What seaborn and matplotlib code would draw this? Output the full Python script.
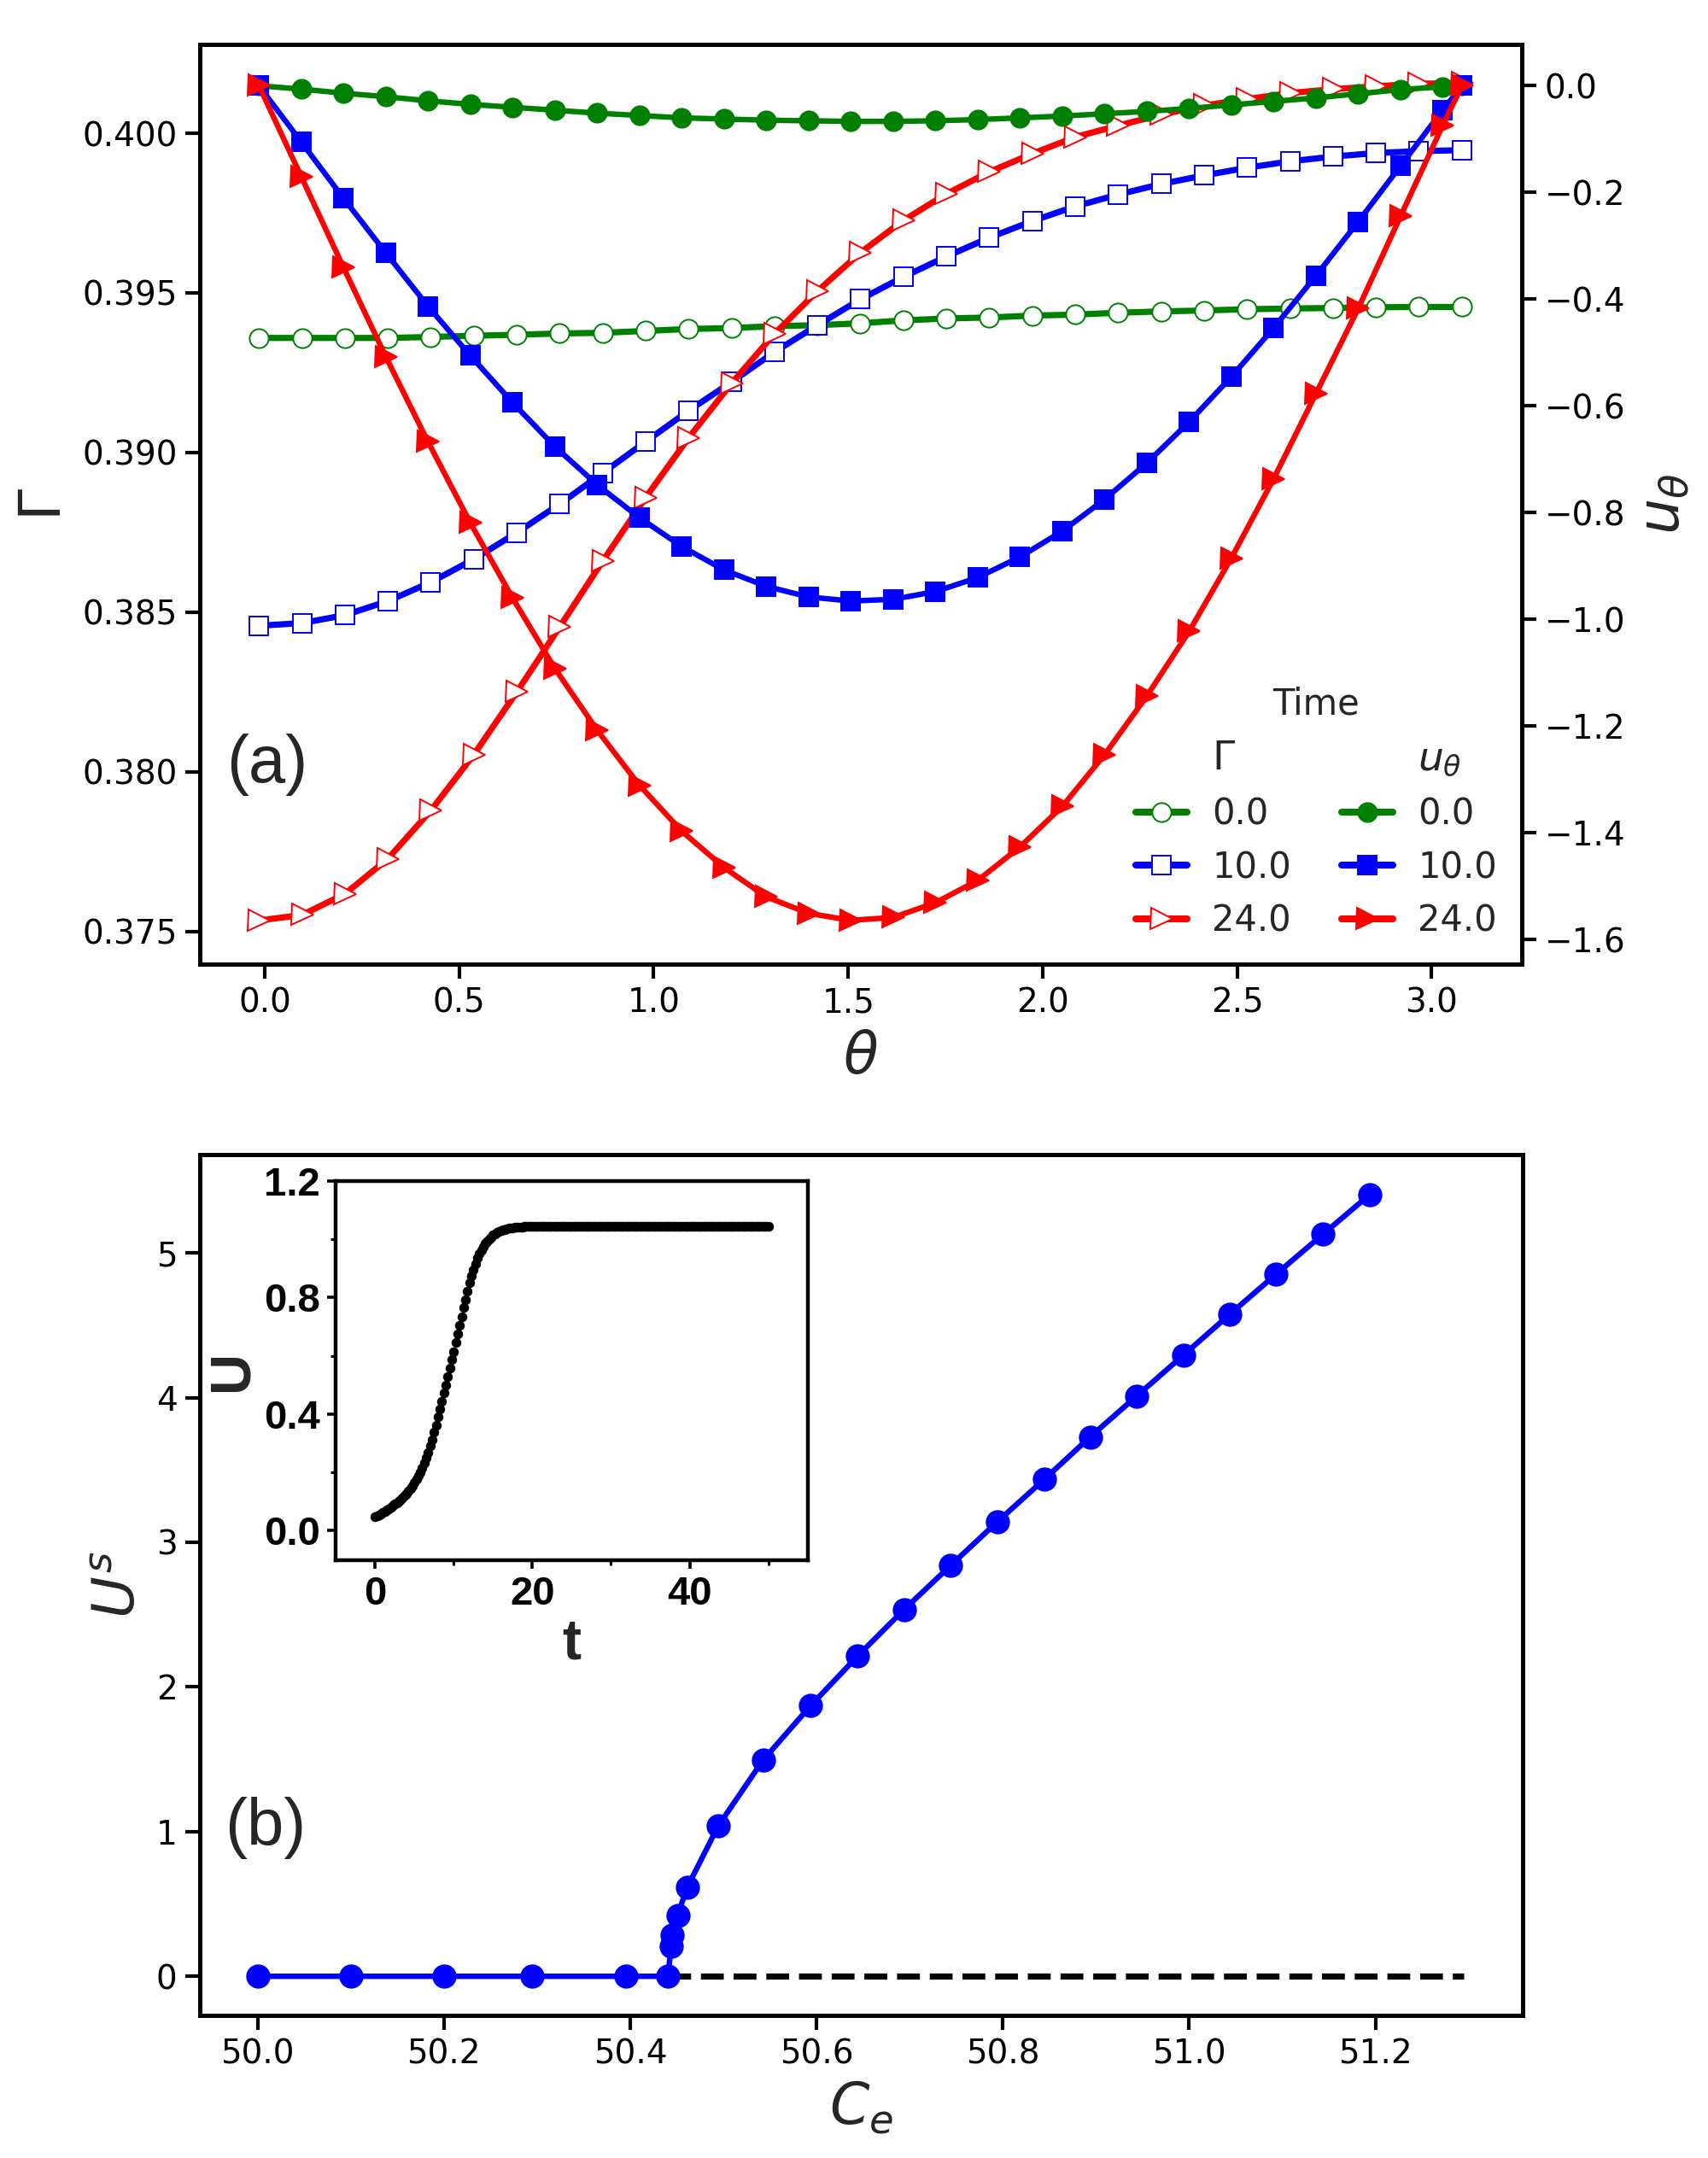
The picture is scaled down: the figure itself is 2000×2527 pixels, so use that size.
import numpy as np
import matplotlib
matplotlib.use("Agg")
import matplotlib.pyplot as plt
import seaborn as sns
from matplotlib.lines import Line2D
from matplotlib.ticker import FuncFormatter, FixedLocator

# ---------------- panel (a) data ----------------
theta_open = [-0.015, 0.0955, 0.2059, 0.3164, 0.4268, 0.5373, 0.6478, 0.7582, 0.8687, 0.9791,
              1.0896, 1.2001, 1.3105, 1.4210, 1.5314, 1.6419, 1.7524, 1.8628, 1.9733, 2.0837,
              2.1942, 2.3047, 2.4151, 2.5256, 2.6360, 2.7465, 2.8570, 2.9674, 3.0779]
gamma_t0 = [0.39359, 0.39359, 0.39359, 0.39359, 0.39362, 0.39366, 0.39369, 0.39373, 0.39375, 0.39381,
            0.39387, 0.39390, 0.39396, 0.39399, 0.39405, 0.39414, 0.39420, 0.39423, 0.39429, 0.39432,
            0.39438, 0.39442, 0.39445, 0.39449, 0.39451, 0.39453, 0.39455, 0.39456, 0.39456]
gamma_t10 = [0.38458, 0.38466, 0.38491, 0.38535, 0.38594, 0.38666, 0.38749, 0.38839, 0.38936, 0.39034,
             0.39131, 0.39221, 0.39315, 0.39399, 0.39480, 0.39550, 0.39614, 0.39673, 0.39725, 0.39771,
             0.39808, 0.39841, 0.39868, 0.39892, 0.39912, 0.39927, 0.39938, 0.39944, 0.39947]
gamma_t24 = [0.37535, 0.37552, 0.37618, 0.37728, 0.37879, 0.38054, 0.38250, 0.38454, 0.38660, 0.38859,
             0.39046, 0.39217, 0.39372, 0.39506, 0.39626, 0.39727, 0.39810, 0.39879, 0.39936, 0.39988,
             0.40024, 0.40058, 0.40087, 0.40107, 0.40126, 0.40138, 0.40147, 0.40155, 0.40157]

theta_filled = [-0.015, 0.0937, 0.2024, 0.3111, 0.4198, 0.5285, 0.6372, 0.7459, 0.8546, 0.9633,
                1.0720, 1.1807, 1.2894, 1.3981, 1.5068, 1.6155, 1.7242, 1.8329, 1.9416, 2.0503,
                2.1590, 2.2677, 2.3764, 2.4851, 2.5938, 2.7025, 2.8112, 2.9199, 3.0286, 3.0779]
u_t0 = [0.0, -0.0062, -0.0139, -0.0205, -0.0282, -0.0348, -0.0403, -0.0458, -0.0513, -0.0557,
        -0.0601, -0.0623, -0.0645, -0.0656, -0.0667, -0.0667, -0.0656, -0.0634, -0.0601, -0.0568,
        -0.0524, -0.0480, -0.0425, -0.0359, -0.0293, -0.0227, -0.0150, -0.0073, -0.0018, 0.0]
u_t10 = [0.0, -0.1052, -0.2108, -0.3131, -0.4132, -0.5056, -0.5936, -0.6761, -0.7476, -0.8092,
         -0.8631, -0.9071, -0.9379, -0.9577, -0.9654, -0.9621, -0.9478, -0.9214, -0.8829, -0.8345,
         -0.7751, -0.7069, -0.6299, -0.5452, -0.4539, -0.3560, -0.2548, -0.1503, -0.0458, 0.0]
u_t24 = [0.0, -0.1701, -0.3405, -0.5077, -0.6672, -0.8190, -0.9598, -1.0918, -1.2073, -1.3107,
         -1.3965, -1.4647, -1.5197, -1.5505, -1.5637, -1.5582, -1.5307, -1.4889, -1.4262, -1.3503,
         -1.2535, -1.1435, -1.0225, -0.8850, -0.7365, -0.5770, -0.4175, -0.2448, -0.0743, 0.0]
time_labels = ["0.0", "10.0", "24.0"]

# ---------------- panel (b) data ----------------
ce_values = [50.0, 50.1, 50.2, 50.295, 50.395, 50.4405, 50.4439, 50.4454, 50.451, 50.4611,
             50.4946, 50.5426, 50.5937, 50.6439, 50.694, 50.7442, 50.7943, 50.8445, 50.8937,
             50.9439, 50.9941, 51.0433, 51.0935, 51.1436, 51.1938]
us_values = [0.0, 0.0, 0.0, 0.0, 0.0, 0.0, 0.205, 0.285, 0.423, 0.614,
             1.041, 1.494, 1.871, 2.212, 2.535, 2.841, 3.143, 3.435, 3.728,
             4.012, 4.295, 4.574, 4.854, 5.129, 5.403]
ce_unstable = [50.44, 51.295]
us_unstable = [0.0, 0.0]

# ---------------- inset data ----------------
t_inset = np.arange(0, 50.01, 0.25)
u_inset = [
    0.048, 0.051, 0.055, 0.058, 0.062, 0.066, 0.071, 0.075, 0.080, 0.085,
    0.091, 0.096, 0.102, 0.108, 0.114, 0.121, 0.128, 0.136, 0.145, 0.155,
    0.165, 0.176, 0.188, 0.201, 0.215, 0.232, 0.250, 0.269, 0.290, 0.313,
    0.337, 0.363, 0.390, 0.417, 0.444, 0.472, 0.500, 0.528, 0.557, 0.586,
    0.615, 0.645, 0.675, 0.705, 0.735, 0.765, 0.794, 0.822, 0.850, 0.874,
    0.896, 0.916, 0.935, 0.950, 0.963, 0.975, 0.985, 0.993, 1.001, 1.008,
    1.015, 1.019, 1.023, 1.027, 1.030, 1.032, 1.034, 1.036, 1.038, 1.039,
    1.040, 1.041, 1.042, 1.042, 1.043, 1.043, 1.044, 1.044, 1.044, 1.044,
    1.045,
    1.045, 1.045, 1.045, 1.045, 1.045, 1.045, 1.045, 1.045, 1.045, 1.045,
    1.045, 1.045, 1.045, 1.045, 1.045, 1.045, 1.045, 1.045, 1.045, 1.045,
    1.045, 1.045, 1.045, 1.045, 1.045, 1.045, 1.045, 1.045, 1.045, 1.045,
    1.045, 1.045, 1.045, 1.045, 1.045, 1.045, 1.045, 1.045, 1.045, 1.045,
    1.045, 1.045, 1.045, 1.045, 1.045, 1.045, 1.045, 1.045, 1.045, 1.045,
    1.045, 1.045, 1.045, 1.045, 1.045, 1.045, 1.045, 1.045, 1.045, 1.045,
    1.045, 1.045, 1.045, 1.045, 1.045, 1.045, 1.045, 1.045, 1.045, 1.045,
    1.045, 1.045, 1.045, 1.045, 1.045, 1.045, 1.045, 1.045, 1.045, 1.045,
    1.045, 1.045, 1.045, 1.045, 1.045, 1.045, 1.045, 1.045, 1.045, 1.045,
    1.045, 1.045, 1.045, 1.045, 1.045, 1.045, 1.045, 1.045, 1.045, 1.045,
    1.045, 1.045, 1.045, 1.045, 1.045, 1.045, 1.045, 1.045, 1.045, 1.045,
    1.045, 1.045, 1.045, 1.045, 1.045, 1.045, 1.045, 1.045, 1.045, 1.045,
]

# ---------------- style ----------------
sns.set_style("ticks", rc={
    "axes.edgecolor": "black",
    "xtick.color": "black",
    "ytick.color": "black",
    "axes.linewidth": 1.8,
    "xtick.major.width": 1.5,
    "ytick.major.width": 1.5,
    "xtick.major.size": 6,
    "ytick.major.size": 6,
    "xtick.direction": "out",
    "ytick.direction": "out",
})
plt.rcParams["font.family"] = ["DejaVu Sans"]
plt.rcParams["mathtext.fontset"] = "dejavusans"

colors = ["green", "blue", "red"]
open_markers = ["o", "s", ">"]
msizes = [8, 8, 9]
LW = 2.6
MEW = 0.7


def minus_fmt(fmt):
    def f(v, pos):
        if abs(v) < 1e-9:
            v = 0.0
        return (fmt % v).replace("-", "\u2212")
    return FuncFormatter(f)


fig = plt.figure(figsize=(10, 12.635), dpi=200)
ax = fig.add_axes([0.117, 0.5532, 0.774, 0.4262])
ax2 = ax.twinx()
axb = fig.add_axes([0.117, 0.0661, 0.7745, 0.3989])
axi = fig.add_axes([0.1966, 0.2772, 0.2762, 0.1755])

# ---- panel (a)
gammas = [gamma_t0, gamma_t10, gamma_t24]
us = [u_t0, u_t10, u_t24]
for g, c, m, ms in zip(gammas, colors, open_markers, msizes):
    sns.lineplot(x=theta_open, y=g, ax=ax, color=c, marker=m, markersize=ms,
                 lw=LW, mfc="white", mec=c, mew=MEW, legend=False, sort=False)
for u, c, m, ms in zip(us, colors, open_markers, msizes):
    sns.lineplot(x=theta_filled, y=u, ax=ax2, color=c, marker=m, markersize=ms,
                 lw=LW - 0.3, mfc=c, mec=c, mew=MEW, legend=False, sort=False)

ax.set_xlim(-0.167, 3.232)
ax.set_ylim(0.37398, 0.40278)
ax2.set_ylim(-1.6458, 0.0774)
ax.set_xticks([0.0, 0.5, 1.0, 1.5, 2.0, 2.5, 3.0])
ax.xaxis.set_major_formatter(minus_fmt("%.1f"))
ax.set_yticks([0.375, 0.380, 0.385, 0.390, 0.395, 0.400])
ax.yaxis.set_major_formatter(minus_fmt("%.3f"))
ax2.set_yticks([0.0, -0.2, -0.4, -0.6, -0.8, -1.0, -1.2, -1.4, -1.6])
ax2.yaxis.set_major_formatter(minus_fmt("%.1f"))
for a in (ax, ax2):
    a.tick_params(labelsize=14, width=1.5, length=6)
    for s in a.spines.values():
        s.set_linewidth(1.8)
ax.set_xlabel(r"$\theta$", fontsize=24)
ax.set_ylabel(r"$\Gamma$", fontsize=24)
ax2.set_ylabel(r"$u_\theta$", fontsize=24)
ax.text(0.02, 0.217, "(a)", transform=ax.transAxes, fontsize=28,
        family="Liberation Sans", ha="left", va="center")

blank = Line2D([], [], linestyle="none", marker=None)
h_open = [Line2D([], [], color=c, marker=m, markersize=ms, lw=2.9, mfc="white", mec=c, mew=MEW)
          for c, m, ms in zip(colors, open_markers, msizes)]
h_fill = [Line2D([], [], color=c, marker=m, markersize=ms, lw=2.9, mfc=c, mec=c, mew=MEW)
          for c, m, ms in zip(colors, open_markers, msizes)]
handles = [blank] + h_open + [blank] + h_fill
labels = [r"$\Gamma$"] + time_labels + [r"$u_\theta$"] + time_labels
leg = ax2.legend(handles, labels, ncol=2, loc="lower right", frameon=False, title="Time",
                 fontsize=15, title_fontsize=15, handlelength=1.45, columnspacing=1.4,
                 labelspacing=0.5, handletextpad=0.7, borderaxespad=0.3)
leg_texts = leg.get_texts()
leg_texts[0].set_fontsize(17)
leg_texts[4].set_fontsize(17)

# ---- panel (b)
sns.lineplot(x=ce_unstable, y=us_unstable, ax=axb, color="black", linestyle="--",
             lw=2.6, legend=False, sort=False)
sns.lineplot(x=ce_values, y=us_values, ax=axb, color="blue", marker="o", markersize=9.5,
             lw=2.3, mfc="blue", mec="blue", mew=MEW, legend=False, sort=False)
axb.set_xlim(49.938, 51.358)
axb.set_ylim(-0.27, 5.68)
axb.set_xticks([50.0, 50.2, 50.4, 50.6, 50.8, 51.0, 51.2])
axb.xaxis.set_major_formatter(minus_fmt("%.1f"))
axb.set_yticks([0, 1, 2, 3, 4, 5])
axb.yaxis.set_major_formatter(minus_fmt("%d"))
axb.tick_params(labelsize=14, width=1.5, length=6)
for s in axb.spines.values():
    s.set_linewidth(1.8)
axb.set_xlabel(r"$C_e$", fontsize=24)
axb.set_ylabel(r"$U^s$", fontsize=24)
axb.text(0.019, 0.218, "(b)", transform=axb.transAxes, fontsize=28,
         family="Liberation Sans", ha="left", va="center")

# ---- inset
sns.scatterplot(x=t_inset, y=u_inset, ax=axi, color="black", s=17, linewidth=0,
                legend=False, zorder=3)
axi.set_xlim(-5, 55)
axi.set_ylim(-0.1, 1.2)
bold = dict(fontsize=17, fontweight="bold", family="Liberation Sans")
axi.set_xticks([0, 20, 40], ["0", "20", "40"], **bold)
axi.set_yticks([0.0, 0.4, 0.8, 1.2], ["0.0", "0.4", "0.8", "1.2"], **bold)
axi.xaxis.set_minor_locator(FixedLocator([10, 30, 50]))
axi.yaxis.set_minor_locator(FixedLocator([0.2, 0.6, 1.0]))
axi.tick_params(which="major", width=1.3, length=3.5, pad=3)
axi.tick_params(which="minor", width=1.1, length=2)
for s in axi.spines.values():
    s.set_linewidth(1.6)
axi.set_xlabel("t", fontsize=24, fontweight="bold", family="Liberation Sans", labelpad=2)
axi.set_ylabel("U", fontsize=24, fontweight="bold", family="Liberation Sans", labelpad=2)

fig.savefig("out.png", dpi=200)
